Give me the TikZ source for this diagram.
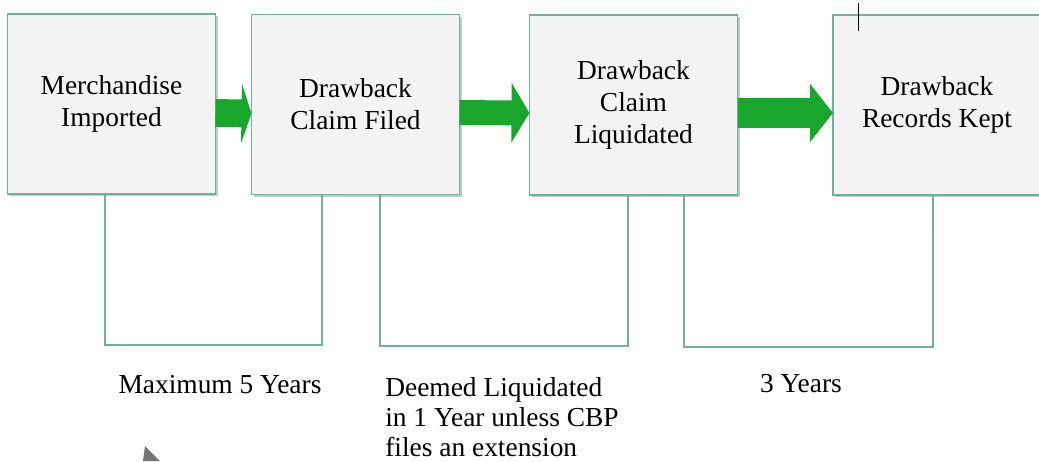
\documentclass[tikz,border=0pt]{standalone}
\usepackage{fontspec}
\setmainfont{Liberation Serif}
\usetikzlibrary{arrows.meta,positioning,shadows}
\definecolor{boxline}{RGB}{112,176,156}
\definecolor{boxfill}{RGB}{243,243,243}
\definecolor{flowgreen}{RGB}{24,166,44}
\tikzset{
  stage/.style={draw=boxline, line width=1.1pt, fill=boxfill, minimum width=5.2cm, minimum height=4.5cm,
    inner sep=0pt, outer sep=0pt, align=center, font=\fontsize{19.5}{22.6}\selectfont,
    drop shadow={shadow xshift=1.6pt, shadow yshift=-1.6pt, fill=black, opacity=.22}},
  bracket/.style={draw=boxline, line width=1.1pt},
  flow/.style={draw=flowgreen, line cap=butt},
  period/.style={font=\fontsize{19.5}{21.6}\selectfont, inner sep=0pt}
}

\begin{document}
\begin{tikzpicture}[x=0.025cm, y=-0.025cm]
\useasboundingbox (0,0) rectangle (1039,461);

\node[stage] (imported) at (111.5,104) {Merchandise\\Imported};
\node[stage] (filed) at (355.5,104.5) {Drawback\\Claim Filed};
\node[stage] (liquidated) at (633.5,105) {Drawback\\Claim\\Liquidated};
\node[stage] (kept) at (937,105) {Drawback\\Records Kept};

\draw[flow, line width=19.8pt, -{Triangle[length=7.1pt, width=42.5pt]}] ([yshift=-0.225cm]imported.east) -- ([yshift=-0.225cm]filed.west);
\draw[flow, line width=17.7pt, -{Triangle[length=12.8pt, width=41.8pt]}] ([yshift=-0.2cm]filed.east) -- ([yshift=-0.2cm]liquidated.west);
\draw[flow, line width=21.3pt, -{Triangle[length=16.3pt, width=40.4pt]}] ([yshift=-0.2cm]liquidated.east) -- ([yshift=-0.2cm]kept.west);

% brackets under the boxes
\coordinate (fiveA) at (105,345);
\coordinate (fiveB) at (322,345);
\coordinate (oneA) at (380,346);
\coordinate (oneB) at (628,346);
\coordinate (threeA) at (684,347);
\coordinate (threeB) at (933,347);

\draw[bracket] (imported.south -| fiveA) -- (fiveA) -- (fiveB) -- (filed.south -| fiveB);
\draw[bracket] (filed.south -| oneA) -- (oneA) -- (oneB) -- (liquidated.south -| oneB);
\draw[bracket] (liquidated.south -| threeA) -- (threeA) -- (threeB) -- (kept.south -| threeB);

\node[period] (maxfive) at (220,385) {Maximum 5 Years};
\node[period, anchor=west, align=left] (deemed) at (385,417) {Deemed Liquidated\\in 1 Year unless CBP\\files an extension};
\node[period] (threeyears) at (801,384) {3 Years};

% stray marks
\draw[black, line width=0.6pt] (858,3) -- (858,31);
\fill[black!55] (145,446) -- (160,461) -- (143,461) -- cycle;
\end{tikzpicture}
\end{document}
